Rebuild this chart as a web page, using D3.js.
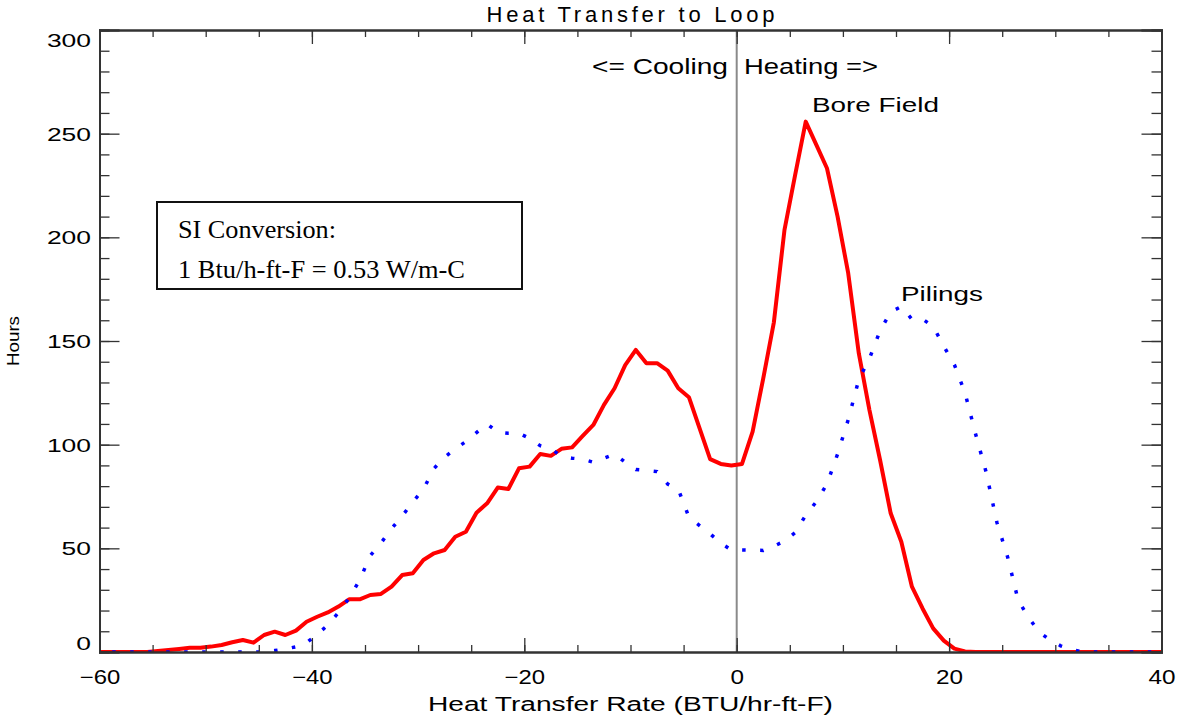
<!DOCTYPE html>
<html>
<head>
<meta charset="utf-8">
<script src="https://cdn.jsdelivr.net/npm/d3@7"></script>
<style>
    body { margin: 0; background: #fff; }
    text { font-family: "Liberation Sans", Arial, sans-serif; fill: #000; }
    .serif { font-family: "Liberation Serif", "Times New Roman", serif; }
</style>
</head>
<body>
<svg id="chart"></svg>
<script>
var width = 1177;
var height = 717;
var margin = {top: 30, right: 15.5, bottom: 65, left: 99.5};
var w = width - margin.left - margin.right;
var h = height - margin.top - margin.bottom;

// bin centres (BTU/hr-ft-F), one per unit, padded at both ends
var rate = d3.range(-60.5, 41, 1);

// hours in each bin
var boreField = [0,
    0, 0, 0, 0, 0, 0.5, 1, 1.5, 2, 2,
    2.6, 3.4, 4.7, 5.8, 4.5, 8.2, 9.8, 8.2, 10.3, 14.6,
    17, 19.1, 21.9, 25.4, 25.4, 27.5, 28, 31.5, 37.1, 38,
    44.4, 47.6, 49.2, 55.6, 58, 67.2, 71.7, 79.3, 78.6, 88.6,
    89.4, 95.5, 94.6, 98, 98.7, 104.2, 109.5, 119.2, 127.2, 138.4,
    145.7, 139.3, 139.3, 135.7, 127.2, 122.9, 108, 93, 90.7, 90,
    90.7, 106.3, 132, 159, 203.6, 230, 255.8, 244.6, 233.3, 210,
    182.7, 144, 116.7, 92.6, 66.9, 53.2, 31.5, 21, 11.4, 5.5,
    1.6, 0.3, 0, 0, 0, 0, 0, 0, 0, 0,
    0, 0, 0, 0, 0, 0, 0, 0, 0, 0,
    0];

var pilings = [0,
    0, 0, 0, 0, 0, 0, 0, 0, 0, 0,
    0, 0, 0, 0, 0, 0, 0.7, 1.5, 2.5, 4.5,
    8.5, 13, 19, 26, 34.7, 46.5, 52.5, 59.5, 65.6, 72.3,
    78.5, 88.5, 94, 98, 101.5, 105.8, 110, 106, 105.5, 105.5,
    103, 99.5, 98, 94.5, 93.5, 93, 91.5, 93.5, 95.5, 91.5,
    88, 87.6, 87, 81, 78.5, 65, 61, 57, 52.5, 49.2,
    49.2, 49.1, 49, 51, 53.5, 57.6, 66, 72.5, 81, 95.5,
    112, 131.5, 141.5, 155, 164, 166.6, 160.5, 160.6, 157, 147.5,
    138.5, 125, 105, 86.5, 62.5, 46, 25, 16.5, 9.5, 5.8,
    3, 1.2, 0.2, 0, 0, 0, 0, 0, 0, 0,
    0];

var xTicks = [-60, -40, -20, 0, 20, 40];
var yTicks = [0, 50, 100, 150, 200, 250, 300];

var svg = d3.select("#chart")
    .attr("width", width)
    .attr("height", height);

var plot = svg.append("g")
    .attr("transform", "translate(" + margin.left + "," + margin.top + ")");

var x = d3.scaleLinear()
    .domain([-60, 40])
    .range([0, w]);

var y = d3.scaleLinear()
    .domain([0, 300])
    .range([h, 0]);

plot.append("clipPath")
    .attr("id", "clip")
    .append("rect")
    .attr("width", w)
    .attr("height", h);

// zero line between cooling and heating
plot.append("line")
    .attr("x1", x(0)).attr("x2", x(0))
    .attr("y1", 0).attr("y2", h)
    .style("stroke", "#8a8a8a")
    .style("stroke-width", 2);

var line = d3.line()
    .x(function(d) { return x(d[0]); })
    .y(function(d) { return y(d[1]); });

plot.append("path")
    .datum(d3.zip(rate, boreField))
    .attr("clip-path", "url(#clip)")
    .attr("d", line)
    .style("fill", "none")
    .style("stroke", "#ff0000")
    .style("stroke-width", 4)
    .style("stroke-linejoin", "round");

plot.append("path")
    .datum(d3.zip(rate, pilings))
    .attr("clip-path", "url(#clip)")
    .attr("d", line)
    .style("fill", "none")
    .style("stroke", "#0000ff")
    .style("stroke-width", 3.5)
    .style("stroke-dasharray", "3.5,14.5");

// frame axes with inward ticks (minor + major)
function frameAxis(axisFn, scale, tr, minorStep, minorLen, majorVals, majorLen, labels) {
    var dom = scale.domain();
    var g = plot.append("g").attr("transform", tr);
    g.append("g")
        .call(axisFn(scale).tickValues(d3.range(dom[0], dom[1] + 0.01, minorStep))
            .tickSize(-minorLen).tickFormat(""));
    var major = g.append("g")
        .call(axisFn(scale).tickValues(majorVals).tickSize(-majorLen).tickPadding(majorLen * -1 + 10)
            .tickFormat(labels ? d3.format("d") : ""));
    g.selectAll("path.domain").style("stroke", "#333").style("stroke-width", 2);
    g.selectAll(".tick line").style("stroke", "#333").style("stroke-width", 1.3);
    return major;
}

var xb = frameAxis(d3.axisBottom, x, "translate(0," + h + ")", 5, 7, xTicks, 14, true);
frameAxis(d3.axisTop, x, "translate(0,0)", 5, 7, xTicks, 14, false);
var yl = frameAxis(d3.axisLeft, y, "translate(0,0)", 10, 10, yTicks, 20, true);
frameAxis(d3.axisRight, y, "translate(" + w + ",0)", 10, 10, yTicks, 20, false);

xb.selectAll("text")
    .attr("y", 32)
    .attr("dy", null)
    .style("font-size", "20px")
    .attr("textLength", function(d) { return String(d).length * 13.5; })
    .attr("lengthAdjust", "spacingAndGlyphs");

yl.selectAll("text")
    .attr("x", -8.5)
    .attr("dy", function(d) { return d == 0 ? "-0.15em" : (d == 300 ? "0.85em" : "0.35em"); })
    .style("font-size", "19px")
    .attr("textLength", function(d) { return String(d).length * 14.7; })
    .attr("lengthAdjust", "spacingAndGlyphs");

// titles
svg.append("text")
    .attr("x", margin.left + w / 2)
    .attr("y", 22)
    .style("text-anchor", "middle")
    .style("font-size", "22px")
    .attr("textLength", 288)
    .attr("lengthAdjust", "spacing")
    .text("Heat Transfer to Loop");

svg.append("text")
    .attr("x", margin.left + w / 2)
    .attr("y", 711)
    .style("text-anchor", "middle")
    .style("font-size", "20px")
    .attr("textLength", 405)
    .attr("lengthAdjust", "spacingAndGlyphs")
    .text("Heat Transfer Rate (BTU/hr-ft-F)");

svg.append("text")
    .attr("transform", "translate(19," + (margin.top + h / 2) + ") rotate(-90)")
    .style("text-anchor", "middle")
    .style("font-size", "17px")
    .attr("textLength", 50)
    .attr("lengthAdjust", "spacingAndGlyphs")
    .text("Hours");

// annotations
var notes = [
    {t: "<= Cooling", x: 728, y: 74, len: 136, anchor: "end", size: 22},
    {t: "Heating =>", x: 744, y: 74, len: 134, anchor: "start", size: 22},
    {t: "Bore Field", x: 812, y: 112, len: 127, anchor: "start", size: 20},
    {t: "Pilings", x: 901, y: 301, len: 82, anchor: "start", size: 20}
];

svg.selectAll(".note")
    .data(notes)
    .enter().append("text")
    .attr("class", "note")
    .attr("x", function(d) { return d.x; })
    .attr("y", function(d) { return d.y; })
    .style("text-anchor", function(d) { return d.anchor; })
    .style("font-size", function(d) { return d.size + "px"; })
    .attr("textLength", function(d) { return d.len; })
    .attr("lengthAdjust", "spacingAndGlyphs")
    .text(function(d) { return d.t; });

// SI conversion box
svg.append("rect")
    .attr("x", 157)
    .attr("y", 202)
    .attr("width", 365)
    .attr("height", 87)
    .style("fill", "none")
    .style("stroke", "#111")
    .style("stroke-width", 2);

svg.append("text")
    .attr("class", "serif")
    .attr("x", 178)
    .attr("y", 238)
    .style("font-size", "25px")
    .attr("textLength", 158)
    .attr("lengthAdjust", "spacingAndGlyphs")
    .text("SI Conversion:");

svg.append("text")
    .attr("class", "serif")
    .attr("x", 178)
    .attr("y", 278)
    .style("font-size", "25px")
    .attr("textLength", 287)
    .attr("lengthAdjust", "spacingAndGlyphs")
    .text("1 Btu/h-ft-F = 0.53 W/m-C");
</script>
</body>
</html>
